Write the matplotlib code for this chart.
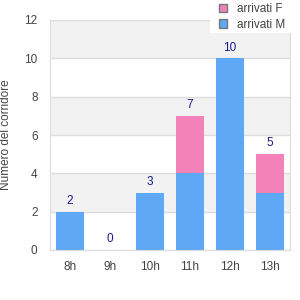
import matplotlib
matplotlib.use("Agg")
import matplotlib.pyplot as plt
from matplotlib.patches import Patch, Rectangle

categories = ["8h", "9h", "10h", "11h", "12h", "13h"]
arrivati_m = [2, 0, 3, 4, 10, 3]
arrivati_f = [0, 0, 0, 3, 0, 2]
totals = [m + f for m, f in zip(arrivati_m, arrivati_f)]
yticks = [0, 2, 4, 6, 8, 10, 12]

col_m = "#5fa8f5"
col_f = "#f282b8"
txt = "#444444"
lab = "#1a1a8c"

plt.rcParams['font.family'] = ['Liberation Sans', 'DejaVu Sans']
fig = plt.figure(figsize=(3, 3), dpi=100)
ax = fig.add_axes([50/300, 50/300, 240/300, 230/300])

x = list(range(len(categories)))
for lo in [2, 6, 10]:
    ax.axhspan(lo, lo + 2, color="#f2f2f2", zorder=0, lw=0)
for y in yticks:
    ax.axhline(y, color="#dddddd", lw=1, zorder=1)

ax.bar(x, arrivati_m, width=0.72, color=col_m, zorder=2)
ax.bar(x, arrivati_f, width=0.72, bottom=arrivati_m, color=col_f, zorder=2)
for xi, t in zip(x, totals):
    ax.text(xi, t + 0.25, str(t), ha="center", va="bottom", color=lab, fontsize=8.5)

ax.set_xlim(-0.5, len(categories) - 0.5)
ax.set_ylim(0, 12)
ax.set_yticks(yticks)
ax.set_xticks(x)
ax.set_xticklabels(categories)
ax.tick_params(length=0, colors=txt, labelsize=8.5, pad=8)
ax.tick_params(axis="y", pad=9)
ax.spines["top"].set_visible(False)
for s in ["left", "bottom", "right"]:
    ax.spines[s].set_color("#dddddd")
ax.set_ylabel("Numero del corridore", color=txt, fontsize=8.5, labelpad=9)

# white legend background box
fig.patches.append(Rectangle((210/300, 1 - 33/300), 90/300, 33/300,
                             transform=fig.transFigure, facecolor="white",
                             edgecolor="none", zorder=3))
handles = [Patch(facecolor=col_f, edgecolor="#777777", label="arrivati F"),
           Patch(facecolor=col_m, edgecolor="#777777", label="arrivati M")]
leg = fig.legend(handles=handles, loc="upper left",
                 bbox_to_anchor=(219/300, 1 - 3/300),
                 frameon=False, fontsize=8.5, handlelength=0.7, handleheight=0.7,
                 handletextpad=0.8, labelspacing=0.3, borderpad=0.0,
                 borderaxespad=0.0)
leg.set_zorder(5)
for t in leg.get_texts():
    t.set_color(txt)

fig.savefig("out.png", dpi=100)
